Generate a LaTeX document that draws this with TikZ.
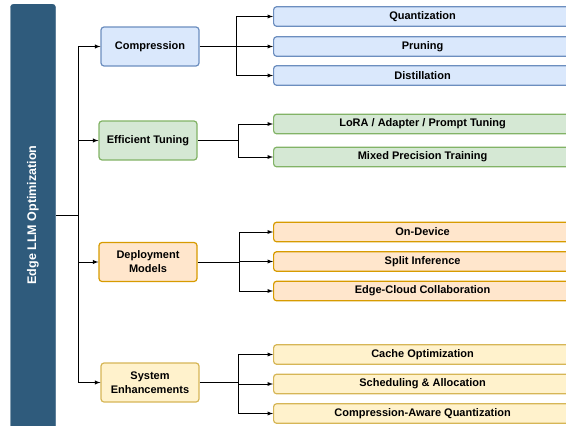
\documentclass[tikz,border=0pt]{standalone}
\usepackage{fontspec}
\setmainfont{Liberation Sans}
\usetikzlibrary{arrows}

\definecolor{sidefill}{HTML}{2F5B7C}
\definecolor{compfill}{HTML}{DAE8FC}
\definecolor{compline}{HTML}{6C8EBF}
\definecolor{tunefill}{HTML}{D5E8D4}
\definecolor{tuneline}{HTML}{82B366}
\definecolor{depfill}{HTML}{FFE6CC}
\definecolor{depline}{HTML}{D79B00}
\definecolor{sysfill}{HTML}{FFF2CC}
\definecolor{sysline}{HTML}{D6B656}

\begin{document}
\begin{tikzpicture}[x=1pt, y=-1pt,
	box/.style={draw, rounded corners=3pt, line width=1.2pt, align=center, inner sep=0pt,
		font=\bfseries\fontsize{11}{14}\selectfont},
	catbox/.style={box, minimum width=98pt, minimum height=39pt},
	leafbox/.style={box, anchor=west, minimum width=298pt, minimum height=19.5pt},
	link/.style={line width=0.9pt},
	]
	\useasboundingbox (0, 0) rectangle (566, 426);
	\clip (0, 0) rectangle (566, 426);
	\node[draw=sidefill, fill=sidefill, rounded corners=3pt, anchor=north, minimum width=45pt, minimum height=440pt, inner sep=0pt] (side) at (33, 4){};
	\node[rotate=90, text=white, font=\bfseries\fontsize{12.5}{14}\selectfont] (sidetext) at (33, 215){Edge LLM Optimization};
	\node[catbox, draw=compline, fill=compfill] (comp) at (150, 46.5){Compression};
	\node[catbox, draw=tuneline, fill=tunefill] (tune) at (148, 140.5){Efficient Tuning};
	\node[catbox, draw=depline, fill=depfill] (dep) at (148, 262){Deployment\\Models};
	\node[catbox, draw=sysline, fill=sysfill] (sys) at (150, 382.5){System\\Enhancements};
	\node[leafbox, draw=compline, fill=compfill] (quant) at (273, 16.5){Quantization};
	\node[leafbox, draw=compline, fill=compfill] (prun) at (273, 46.5){Pruning};
	\node[leafbox, draw=compline, fill=compfill] (dist) at (273, 75.5){Distillation};
	\node[leafbox, draw=tuneline, fill=tunefill] (lora) at (273, 124){LoRA / Adapter / Prompt Tuning};
	\node[leafbox, draw=tuneline, fill=tunefill] (mixed) at (273, 157){Mixed Precision Training};
	\node[leafbox, draw=depline, fill=depfill] (ondev) at (273, 232){On-Device};
	\node[leafbox, draw=depline, fill=depfill] (split) at (273, 261.5){Split Inference};
	\node[leafbox, draw=depline, fill=depfill] (edgecl) at (273, 291){Edge-Cloud Collaboration};
	\node[leafbox, draw=sysline, fill=sysfill] (cache) at (273, 354.5){Cache Optimization};
	\node[leafbox, draw=sysline, fill=sysfill] (sched) at (273, 384){Scheduling \& Allocation};
	\node[leafbox, draw=sysline, fill=sysfill] (cquant) at (273, 413.5){Compression-Aware Quantization};
	\coordinate (trunk) at (78, 215);
	\coordinate (compj) at (236, 46.5);
	\coordinate (tunej) at (238, 140.5);
	\coordinate (depj) at (239, 262);
	\coordinate (sysj) at (238, 382.5);
	\draw[link] (side.east |- trunk) -- (trunk);
	\foreach \c in {comp, tune, dep, sys}
		\draw[link, -latex] (trunk) |- (\c.west);
	\draw[link] (comp.east) -- (compj);
	\draw[link] (tune.east) -- (tunej);
	\draw[link] (dep.east) -- (depj);
	\draw[link] (sys.east) -- (sysj);
	\foreach \l in {quant, prun, dist}
		\draw[link, -latex] (compj) |- (\l.west);
	\foreach \l in {lora, mixed}
		\draw[link, -latex] (tunej) |- (\l.west);
	\foreach \l in {ondev, split, edgecl}
		\draw[link, -latex] (depj) |- (\l.west);
	\foreach \l in {cache, sched, cquant}
		\draw[link, -latex] (sysj) |- (\l.west);
\end{tikzpicture}
\end{document}
